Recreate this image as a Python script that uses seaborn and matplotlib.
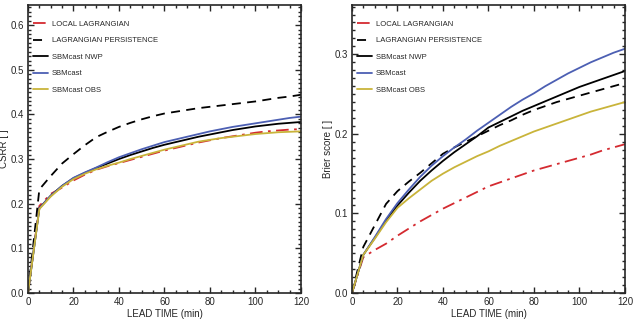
import numpy as np
import pandas as pd
import seaborn as sns
import matplotlib.pyplot as plt
from matplotlib.ticker import MultipleLocator

# lead times (min)
lead_time = list(range(0, 125, 5))

# CSRR (left panel)
csrr_local_lagr = [0, 0.195, 0.222, 0.236, 0.252, 0.265, 0.276, 0.284, 0.291, 0.298, 0.305, 0.312, 0.319,
                   0.325, 0.331, 0.337, 0.342, 0.347, 0.351, 0.355, 0.359, 0.362, 0.364, 0.366, 0.367]
csrr_lagr_pers = [0, 0.232, 0.262, 0.290, 0.311, 0.331, 0.349, 0.361, 0.372, 0.381, 0.389, 0.396, 0.402,
                  0.406, 0.410, 0.414, 0.417, 0.420, 0.423, 0.426, 0.429, 0.433, 0.437, 0.440, 0.444]
csrr_sbm_nwp = [0, 0.190, 0.218, 0.240, 0.257, 0.269, 0.280, 0.290, 0.300, 0.309, 0.317, 0.325, 0.332,
                0.338, 0.344, 0.350, 0.355, 0.360, 0.365, 0.369, 0.373, 0.376, 0.379, 0.381, 0.383]
csrr_sbm = [0, 0.190, 0.218, 0.240, 0.258, 0.270, 0.281, 0.293, 0.304, 0.313, 0.322, 0.330, 0.338,
            0.344, 0.350, 0.356, 0.362, 0.367, 0.372, 0.376, 0.380, 0.384, 0.388, 0.392, 0.395]
csrr_sbm_obs = [0, 0.188, 0.216, 0.238, 0.255, 0.267, 0.277, 0.285, 0.292, 0.300, 0.307, 0.314, 0.321,
                0.327, 0.333, 0.339, 0.343, 0.347, 0.350, 0.353, 0.356, 0.358, 0.360, 0.361, 0.362]

# Brier score (right panel)
bs_local_lagr = [0, 0.045, 0.054, 0.062, 0.072, 0.081, 0.090, 0.098, 0.106, 0.113, 0.120, 0.127, 0.134,
                 0.139, 0.144, 0.149, 0.154, 0.158, 0.162, 0.166, 0.170, 0.174, 0.179, 0.183, 0.187]
bs_lagr_pers = [0, 0.058, 0.085, 0.112, 0.128, 0.140, 0.151, 0.163, 0.175, 0.183, 0.190, 0.197, 0.204,
                0.211, 0.217, 0.224, 0.230, 0.235, 0.240, 0.244, 0.248, 0.252, 0.256, 0.260, 0.264]
bs_sbm_nwp = [0, 0.048, 0.069, 0.091, 0.110, 0.126, 0.141, 0.154, 0.166, 0.177, 0.187, 0.197, 0.208,
              0.215, 0.222, 0.229, 0.235, 0.241, 0.247, 0.253, 0.259, 0.264, 0.269, 0.274, 0.279]
bs_sbm = [0, 0.048, 0.070, 0.093, 0.113, 0.130, 0.146, 0.160, 0.172, 0.183, 0.193, 0.204, 0.214,
          0.224, 0.234, 0.243, 0.251, 0.260, 0.268, 0.276, 0.283, 0.290, 0.296, 0.302, 0.307]
bs_sbm_obs = [0, 0.048, 0.068, 0.089, 0.107, 0.119, 0.130, 0.141, 0.150, 0.158, 0.165, 0.172, 0.178,
              0.185, 0.191, 0.197, 0.203, 0.208, 0.213, 0.218, 0.223, 0.228, 0.232, 0.236, 0.240]

names = ["LOCAL LAGRANGIAN", "LAGRANGIAN PERSISTENCE", "SBMcast NWP", "SBMcast", "SBMcast OBS"]
colors = ["#d42a30", "black", "black", "#4c5fb3", "#c9b43a"]
dashes = [(7, 3, 1.5, 3), (5, 3.5), None, None, None]

sns.set_style("ticks")
plt.rcParams['font.family'] = ['Liberation Sans', 'DejaVu Sans']

fig = plt.figure(figsize=(6.33, 3.24), dpi=100)
ax1 = fig.add_axes([0.0442, 0.0957, 0.4313, 0.8889])
ax2 = fig.add_axes([0.556, 0.0957, 0.4313, 0.8889])


def draw(ax, series, ylabel, ymax):
    for name, vals, c, d in zip(names, series, colors, dashes):
        df = pd.DataFrame({"t": lead_time, "v": vals})
        sns.lineplot(data=df, x="t", y="v", color=c, lw=1.3, label=name, ax=ax)
        if d is not None:
            ax.lines[-1].set_dashes(d)
    ax.set_xlim(0, 120)
    ax.set_ylim(0, ymax)
    ax.xaxis.set_major_locator(MultipleLocator(20))
    ax.xaxis.set_minor_locator(MultipleLocator(5))
    ax.yaxis.set_major_locator(MultipleLocator(0.1))
    ax.yaxis.set_minor_locator(MultipleLocator(0.01))
    ax.yaxis.set_major_formatter(lambda v, p: f"{v:.1f}")
    ax.tick_params(which="both", direction="in", top=True, right=True, labelsize=7, width=1, pad=3)
    ax.tick_params(which="major", length=4)
    ax.tick_params(which="minor", length=2)
    for s in ax.spines.values():
        s.set_linewidth(1.2)
    ax.set_xlabel("LEAD TIME (min)", fontsize=7, labelpad=1)
    ax.set_ylabel(ylabel, fontsize=7)
    ax.yaxis.set_label_coords(-0.068, 0.5)
    ax.legend(loc="upper left", bbox_to_anchor=(0, 0.965), frameon=False, fontsize=5.5,
              handlelength=1.95, handletextpad=0.5, labelspacing=1.2, borderaxespad=0.3)


draw(ax1, [csrr_local_lagr, csrr_lagr_pers, csrr_sbm_nwp, csrr_sbm, csrr_sbm_obs], "CSRR [ ]", 0.645)
draw(ax2, [bs_local_lagr, bs_lagr_pers, bs_sbm_nwp, bs_sbm, bs_sbm_obs], "Brier score [ ]", 0.362)

fig.savefig("out.png", dpi=100)
